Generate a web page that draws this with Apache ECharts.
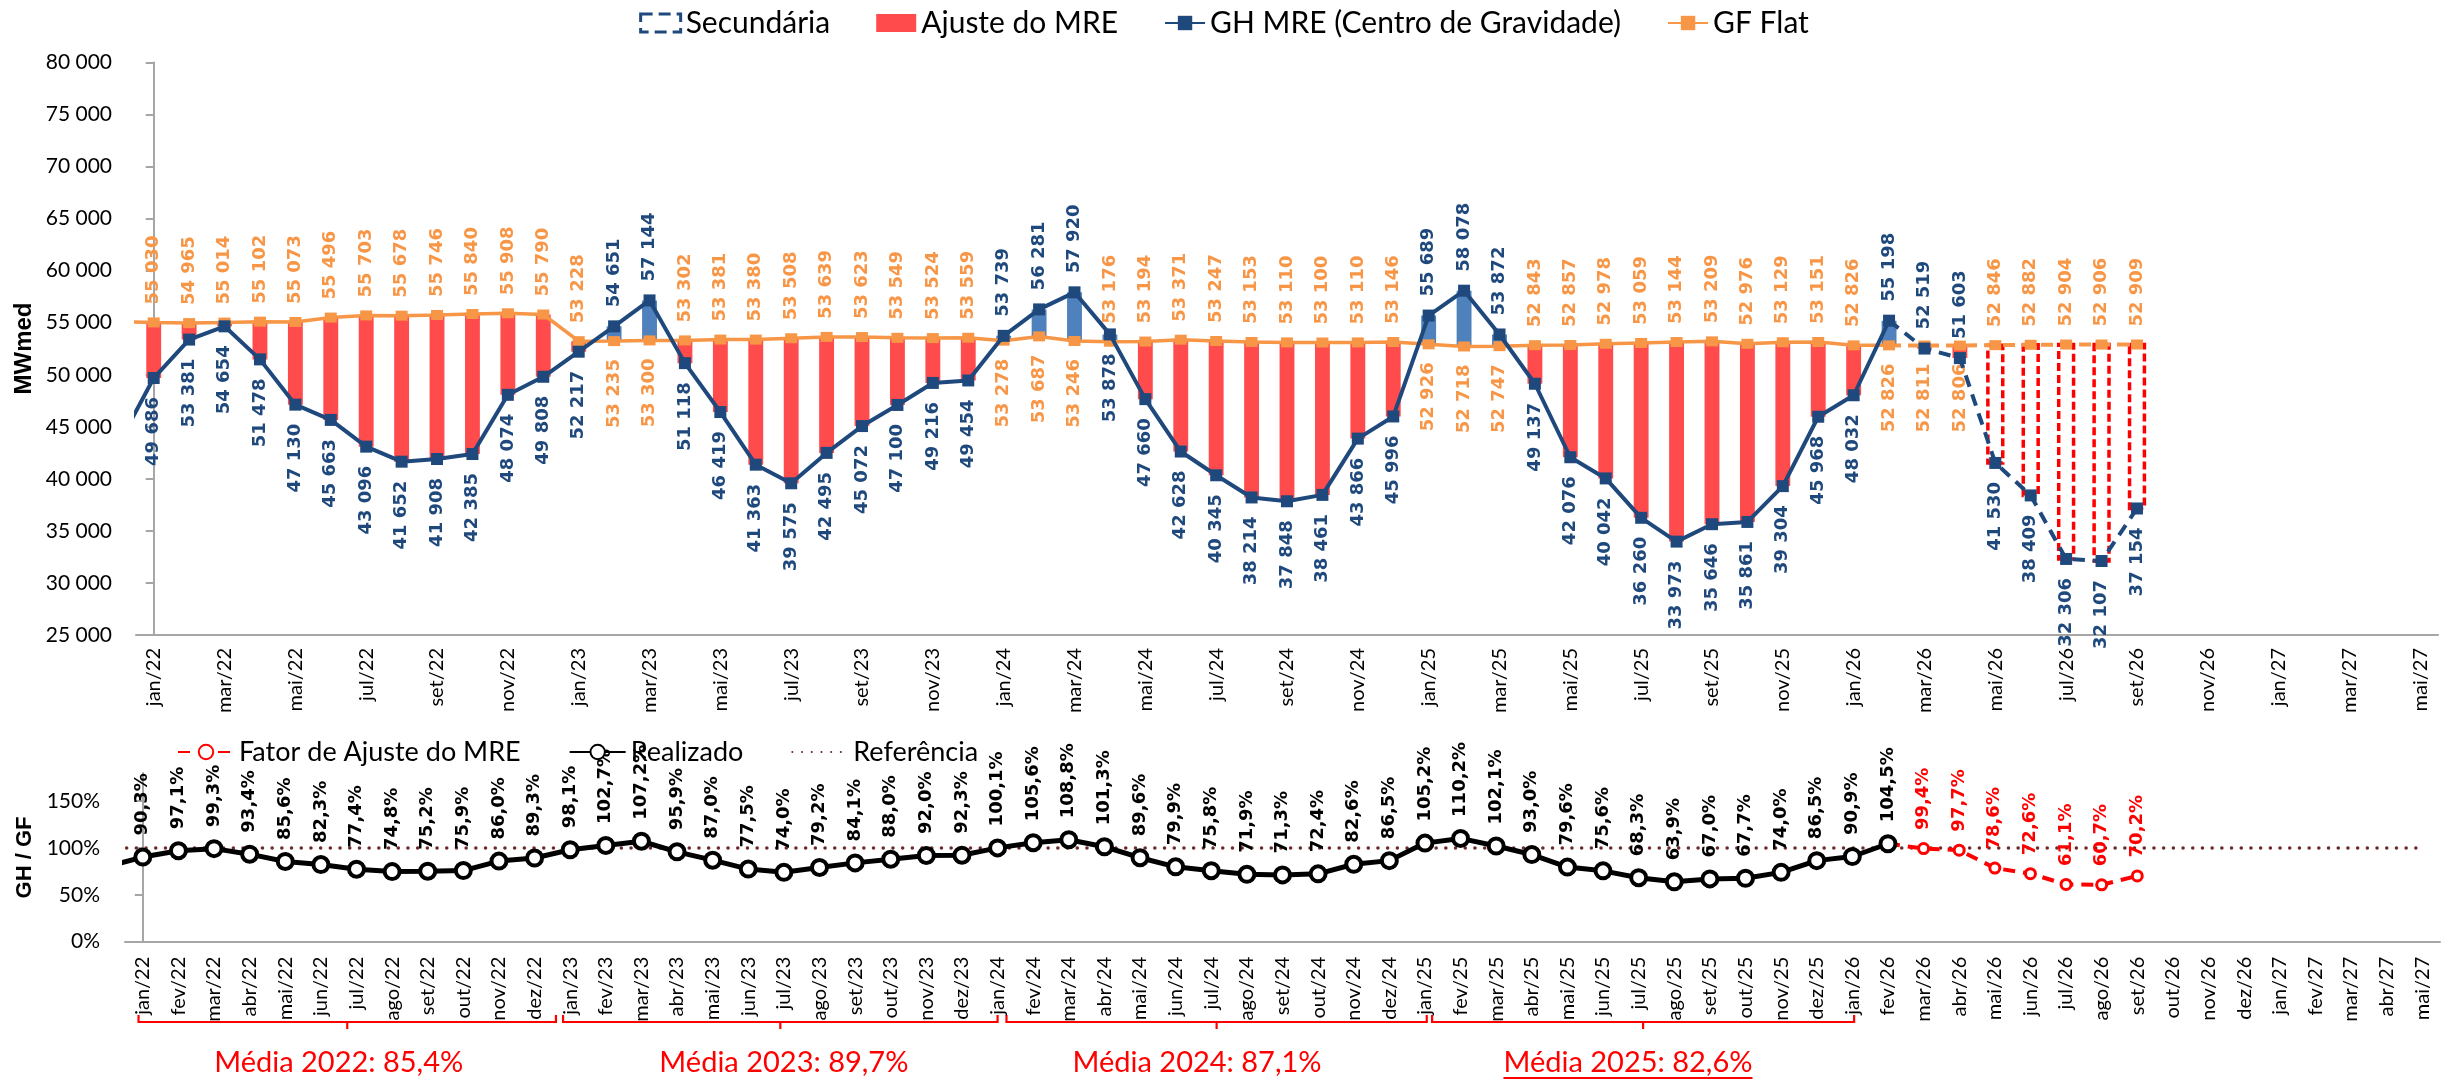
<!DOCTYPE html>
<html>
<head>
<meta charset="utf-8">
<script src="https://cdn.jsdelivr.net/npm/echarts@6/dist/echarts.min.js"></script>
<style>
  html, body { margin: 0; padding: 0; background: #ffffff; }
  #chart { width: 2448px; height: 1082px; }
</style>
</head>
<body>
<div id="chart"></div>
<script>
// ---------------------------------------------------------------------------
// Data
// ---------------------------------------------------------------------------
const months = [
  'jan/22','fev/22','mar/22','abr/22','mai/22','jun/22','jul/22','ago/22','set/22','out/22','nov/22','dez/22',
  'jan/23','fev/23','mar/23','abr/23','mai/23','jun/23','jul/23','ago/23','set/23','out/23','nov/23','dez/23',
  'jan/24','fev/24','mar/24','abr/24','mai/24','jun/24','jul/24','ago/24','set/24','out/24','nov/24','dez/24',
  'jan/25','fev/25','mar/25','abr/25','mai/25','jun/25','jul/25','ago/25','set/25','out/25','nov/25','dez/25',
  'jan/26','fev/26','mar/26','abr/26','mai/26','jun/26','jul/26','ago/26','set/26','out/26','nov/26','dez/26',
  'jan/27','fev/27','mar/27','abr/27','mai/27'
];

// GH MRE (centro de gravidade), MWmed, jan/22 .. set/26
const ghMre = [
  49686, 53381, 54654, 51478, 47130, 45663, 43096, 41652, 41908, 42385, 48074, 49808,
  52217, 54651, 57144, 51118, 46419, 41363, 39575, 42495, 45072, 47100, 49216, 49454,
  53739, 56281, 57920, 53878, 47660, 42628, 40345, 38214, 37848, 38461, 43866, 45996,
  55689, 58078, 53872, 49137, 42076, 40042, 36260, 33973, 35646, 35861, 39304, 45968,
  48032, 55198, 52519, 51603, 41530, 38409, 32306, 32107, 37154
];

// GF flat, MWmed, jan/22 .. set/26
const gfFlat = [
  55030, 54965, 55014, 55102, 55073, 55496, 55703, 55678, 55746, 55840, 55908, 55790,
  53228, 53235, 53300, 53302, 53381, 53380, 53508, 53639, 53623, 53549, 53524, 53559,
  53278, 53687, 53246, 53176, 53194, 53371, 53247, 53153, 53110, 53100, 53110, 53146,
  52926, 52718, 52747, 52843, 52857, 52978, 53059, 53144, 53209, 52976, 53129, 53151,
  52826, 52826, 52811, 52806, 52846, 52882, 52904, 52906, 52909
];

// dez/21 values (the lines enter the plot from the left edge)
const ghDez21 = 43300;
const gfDez21 = 55100;
const realizadoDez21 = 80.0;

// GH / GF realizado (%), jan/22 .. fev/26
const realizado = [
  90.3, 97.1, 99.3, 93.4, 85.6, 82.3, 77.4, 74.8, 75.2, 75.9, 86.0, 89.3,
  98.1, 102.7, 107.2, 95.9, 87.0, 77.5, 74.0, 79.2, 84.1, 88.0, 92.0, 92.3,
  100.1, 105.6, 108.8, 101.3, 89.6, 79.9, 75.8, 71.9, 71.3, 72.4, 82.6, 86.5,
  105.2, 110.2, 102.1, 93.0, 79.6, 75.6, 68.3, 63.9, 67.0, 67.7, 74.0, 86.5,
  90.9, 104.5
];

// Fator de ajuste do MRE (%), fev/26 .. set/26
const fatorMonths = ['fev/26','mar/26','abr/26','mai/26','jun/26','jul/26','ago/26','set/26'];
const fatorAjuste = [104.5, 99.4, 97.7, 78.6, 72.6, 61.1, 60.7, 70.2];

const referencia = 100;

// Média anual do realizado (%)
const mediaAnos = ['2022', '2023', '2024', '2025'];
const mediaValores = [85.4, 89.7, 87.1, 82.6];

// ---------------------------------------------------------------------------
// Layout / style settings
// ---------------------------------------------------------------------------
const lastRealized = months.indexOf('fev/26');   // lines turn dashed from here
const dashedBarsFrom = months.indexOf('mai/26');  // projected adjustment bars
const swapLabelSide = ['abr/24', 'mar/26', 'abr/26'];
// brackets under the lower axis, in category units
const bracketSpans = [[-0.12, 11.6], [11.8, 24.0], [24.25, 36.05], [36.2, 48.05]];
const mediaTextAt = [5.5, 18.0, 29.6, 41.7];
const mediaUnderlined = ['2025'];

const NAVY = '#1F497D';
const ORANGE = '#F79646';
const RED_BAR = '#FF4B4B';
const BLUE_BAR = '#4F81BD';
const AXIS_GREY = '#A6A6A6';
const REF_COLOR = '#6E2B2B';

const fmtMil = v => String(Math.round(v)).replace(/\B(?=(\d{3})+(?!\d))/g, ' ');
const fmtPct = v => v.toFixed(1).replace('.', ',') + '%';

const labelUp = { position: 'top', align: 'left' };
const labelDown = { position: 'bottom', align: 'right' };

function ghAbove(i) {
  const above = ghMre[i] > gfFlat[i];
  return swapLabelSide.includes(months[i]) ? !above : above;
}

// ---- upper chart series data ----
const ghSolidData = [{ value: [-1, ghDez21], label: { show: false } }];
const gfSolidData = [{ value: [-1, gfDez21], label: { show: false } }];
for (let i = 0; i <= lastRealized; i++) {
  const up = ghAbove(i);
  ghSolidData.push({ value: [i, ghMre[i]], label: up ? labelUp : labelDown });
  gfSolidData.push({ value: [i, gfFlat[i]], label: up ? labelDown : labelUp });
}
const ghDashData = [];
const gfDashData = [];
for (let i = lastRealized; i < ghMre.length; i++) {
  const up = ghAbove(i);
  const first = i === lastRealized;
  ghDashData.push({ value: [i, ghMre[i]], label: first ? { show: false } : (up ? labelUp : labelDown), symbol: first ? 'none' : 'rect' });
  gfDashData.push({ value: [i, gfFlat[i]], label: first ? { show: false } : (up ? labelDown : labelUp), symbol: first ? 'none' : 'rect' });
}

const ajusteData = [];
const projData = [];
for (let i = 0; i < ghMre.length; i++) {
  const lo = Math.min(ghMre[i], gfFlat[i]);
  const hi = Math.max(ghMre[i], gfFlat[i]);
  if (i < dashedBarsFrom) ajusteData.push([i, lo, hi, ghMre[i] > gfFlat[i] ? 1 : 0]);
  else projData.push([i, lo, hi, 0]);
}

// ---- lower chart series data ----
const realizadoData = [{ value: [-1, realizadoDez21], label: { show: false } }];
realizado.forEach((v, i) => realizadoData.push([i, v]));
const fatorData = fatorAjuste.map((v, k) => {
  const i = months.indexOf(fatorMonths[k]);
  return k === 0 ? { value: [i, v], label: { show: false }, symbol: 'none' } : [i, v];
});
const referenciaData = [[-1, referencia]];
months.forEach((m, i) => referenciaData.push([i, referencia]));

// ---------------------------------------------------------------------------
// Chart
// ---------------------------------------------------------------------------
function barRenderer(dashed) {
  return function (params, api) {
    const x = api.value(0);
    const top = api.coord([x, api.value(2)]);
    const bottom = api.coord([x, api.value(1)]);
    const w = api.size([1, 0])[0] * 0.42;
    const shape = { x: top[0] - w / 2, y: top[1], width: w, height: bottom[1] - top[1] };
    if (dashed) {
      return { type: 'rect', shape, style: { fill: null, stroke: '#FF0000', lineWidth: 3.5, lineDash: [8, 4] } };
    }
    return { type: 'rect', shape, style: { fill: api.value(3) === 1 ? BLUE_BAR : RED_BAR } };
  };
}

const topLabel = (color) => ({
  show: true, rotate: 90, verticalAlign: 'middle', distance: 13,
  fontFamily: 'DejaVu Sans', fontWeight: 'bold', fontSize: 18, color,
  formatter: p => fmtMil(p.value[1])
});
const bottomLabel = (color) => ({
  show: true, position: 'top', rotate: 90, align: 'left', verticalAlign: 'middle', distance: 12,
  fontFamily: 'DejaVu Sans', fontWeight: 'bold', fontSize: 18, color,
  formatter: p => fmtPct(p.value[1])
});

const chart = echarts.init(document.getElementById('chart'));

const option = {
  animation: false,
  backgroundColor: '#ffffff',
  legend: [
    {
      top: 2, left: 'center', itemGap: 46, itemWidth: 40, itemHeight: 18,
      textStyle: { fontFamily: 'Lato', fontSize: 30, color: '#000', lineHeight: 32 },
      data: [
        { name: 'Secundária', icon: 'rect', itemStyle: { color: '#ffffff', borderColor: NAVY, borderWidth: 3, borderType: 'dashed' } },
        { name: 'Ajuste do MRE', icon: 'rect', itemStyle: { color: RED_BAR } },
        { name: 'GH MRE (Centro de Gravidade)' },
        { name: 'GF Flat' }
      ]
    },
    {
      top: 732, left: 172, itemGap: 48, itemWidth: 56, itemHeight: 18,
      textStyle: { fontFamily: 'Lato', fontSize: 27, color: '#000', lineHeight: 30 },
      data: [
        { name: 'Fator de Ajuste do MRE' },
        { name: 'Realizado' },
        { name: 'Referência', itemStyle: { opacity: 0 } }
      ]
    }
  ],
  grid: [
    { left: 136, right: 10, top: 62.5, bottom: 447 },
    { left: 125, right: 8, top: 773, bottom: 140.3 }
  ],
  xAxis: [
    {
      type: 'category', gridIndex: 0, data: months, boundaryGap: true,
      axisLine: { lineStyle: { color: AXIS_GREY, width: 2 } },
      axisTick: { interval: 1, length: 6, lineStyle: { color: AXIS_GREY, width: 2 } },
      axisLabel: { interval: 1, rotate: 90, margin: 13, fontFamily: 'Lato', fontSize: 20, color: '#000' }
    },
    { type: 'value', gridIndex: 0, min: -0.5, max: 64.5, show: false },
    {
      type: 'category', gridIndex: 1, data: months, boundaryGap: true,
      axisLine: { lineStyle: { color: AXIS_GREY, width: 2 } },
      axisTick: { interval: 0, length: 7, lineStyle: { color: AXIS_GREY, width: 2 } },
      axisLabel: { interval: 0, rotate: 90, margin: 15, fontFamily: 'Lato', fontSize: 20, color: '#000' }
    },
    { type: 'value', gridIndex: 1, min: -0.5, max: 64.5, show: false }
  ],
  yAxis: [
    {
      type: 'value', gridIndex: 0, min: 25000, max: 80000, interval: 5000,
      splitLine: { show: false },
      axisLine: { show: true, lineStyle: { color: AXIS_GREY, width: 2 } },
      axisTick: { show: true, length: 8, lineStyle: { color: AXIS_GREY, width: 2 } },
      axisLabel: { margin: 24, fontFamily: 'Lato', fontSize: 21, color: '#000', formatter: v => fmtMil(v) }
    },
    {
      type: 'value', gridIndex: 1, min: 0, max: 180, interval: 50,
      splitLine: { show: false },
      axisLine: { show: true, lineStyle: { color: AXIS_GREY, width: 2 } },
      axisTick: { show: true, length: 8, lineStyle: { color: AXIS_GREY, width: 2 }, customValues: [0, 50, 100, 150] },
      axisLabel: { margin: 25, fontFamily: 'Lato', fontSize: 21, color: '#000', customValues: [0, 50, 100, 150], formatter: v => v + '%' }
    }
  ],
  series: [
    {
      name: 'Ajuste do MRE', type: 'custom', xAxisIndex: 1, yAxisIndex: 0, z: 1, clip: true,
      itemStyle: { color: RED_BAR },
      encode: { x: 0, y: [1, 2] },
      renderItem: barRenderer(false),
      data: ajusteData
    },
    {
      name: 'Secundária', type: 'custom', xAxisIndex: 1, yAxisIndex: 0, z: 1, clip: true,
      itemStyle: { color: '#ffffff', borderColor: NAVY },
      encode: { x: 0, y: [1, 2] },
      renderItem: barRenderer(true),
      data: projData
    },
    {
      name: 'GF Flat', type: 'line', xAxisIndex: 1, yAxisIndex: 0, z: 2, clip: true,
      symbol: 'rect', symbolSize: [12, 10],
      itemStyle: { color: ORANGE },
      lineStyle: { color: ORANGE, width: 3.5 },
      label: topLabel(ORANGE),
      data: gfSolidData
    },
    {
      name: 'GF Flat', type: 'line', xAxisIndex: 1, yAxisIndex: 0, z: 2, clip: true,
      symbol: 'rect', symbolSize: [12, 10],
      itemStyle: { color: ORANGE },
      lineStyle: { color: ORANGE, width: 4, type: [12, 7] },
      label: topLabel(ORANGE),
      data: gfDashData
    },
    {
      name: 'GH MRE (Centro de Gravidade)', type: 'line', xAxisIndex: 1, yAxisIndex: 0, z: 3, clip: true,
      symbol: 'rect', symbolSize: 12,
      itemStyle: { color: NAVY },
      lineStyle: { color: NAVY, width: 4 },
      label: topLabel(NAVY),
      data: ghSolidData
    },
    {
      name: 'GH MRE (Centro de Gravidade)', type: 'line', xAxisIndex: 1, yAxisIndex: 0, z: 3, clip: true,
      symbol: 'rect', symbolSize: 12,
      itemStyle: { color: NAVY },
      lineStyle: { color: NAVY, width: 4, type: [12, 8] },
      label: topLabel(NAVY),
      data: ghDashData
    },
    {
      name: 'Referência', type: 'line', xAxisIndex: 3, yAxisIndex: 1, z: 1, clip: true,
      symbol: 'none',
      itemStyle: { color: REF_COLOR },
      lineStyle: { color: REF_COLOR, width: 3.5, type: [0.1, 9.6], cap: 'round' },
      data: referenciaData
    },
    {
      name: 'Fator de Ajuste do MRE', type: 'line', xAxisIndex: 3, yAxisIndex: 1, z: 2, clip: true,
      symbol: 'circle', symbolSize: 10,
      itemStyle: { color: '#ffffff', borderColor: '#FF0000', borderWidth: 3 },
      lineStyle: { color: '#FF0000', width: 4, type: [12, 8] },
      label: bottomLabel('#FF0000'),
      data: fatorData
    },
    {
      name: 'Realizado', type: 'line', xAxisIndex: 3, yAxisIndex: 1, z: 3, clip: true,
      symbol: 'circle', symbolSize: 15,
      itemStyle: { color: '#ffffff', borderColor: '#000000', borderWidth: 4 },
      lineStyle: { color: '#000000', width: 5 },
      label: bottomLabel('#000000'),
      data: realizadoData
    }
  ]
};

chart.setOption(option);

// ---- axis titles, yearly brackets and averages ----
const xPix = v => chart.convertToPixel({ xAxisIndex: 3 }, v);
const measure = (() => {
  const ctx = document.createElement('canvas').getContext('2d');
  return (text, font) => { ctx.font = font; return ctx.measureText(text).width; };
})();

// rotated axis titles, centred on each value axis
const graphics = [
  { type: 'text', x: 24, y: 348.5, rotation: Math.PI / 2, z: 10,
    style: { text: 'MWmed', fill: '#000', font: 'bold 24px Arial, "Liberation Sans", sans-serif', align: 'center', verticalAlign: 'middle' } },
  { type: 'text', x: 25, y: 857.5, rotation: Math.PI / 2, z: 10,
    style: { text: 'GH / GF', fill: '#000', font: 'bold 22px Arial, "Liberation Sans", sans-serif', align: 'center', verticalAlign: 'middle' } }
];

const yLine = 1022, yHook = 1015, yTick = 1029, yText = 1063;
const mediaFontSize = 29;
mediaAnos.forEach((ano, k) => {
  const xs = xPix(bracketSpans[k][0]);
  const xe = xPix(bracketSpans[k][1]);
  const xm = (xs + xe) / 2;
  graphics.push({ type: 'polyline', shape: { points: [[xs, yHook], [xs, yLine], [xe, yLine], [xe, yHook]] },
    style: { stroke: '#FF0000', lineWidth: 2.2, fill: null } });
  graphics.push({ type: 'line', shape: { x1: xm, y1: yLine, x2: xm, y2: yTick },
    style: { stroke: '#FF0000', lineWidth: 2.2 } });
  const text = 'Média ' + ano + ': ' + fmtPct(mediaValores[k]);
  const xc = xPix(mediaTextAt[k]);
  graphics.push({ type: 'text', x: xc, y: yText,
    style: { text, fontFamily: 'Lato', fontSize: mediaFontSize, fill: '#FF0000', align: 'center', verticalAlign: 'middle' } });
  if (mediaUnderlined.includes(ano)) {
    const w = measure(text, mediaFontSize + 'px Lato');
    graphics.push({ type: 'line', shape: { x1: xc - w / 2, y1: yText + 15, x2: xc + w / 2, y2: yText + 15 },
      style: { stroke: '#FF0000', lineWidth: 2 } });
  }
});

chart.setOption({ graphic: graphics });
</script>
</body>
</html>
